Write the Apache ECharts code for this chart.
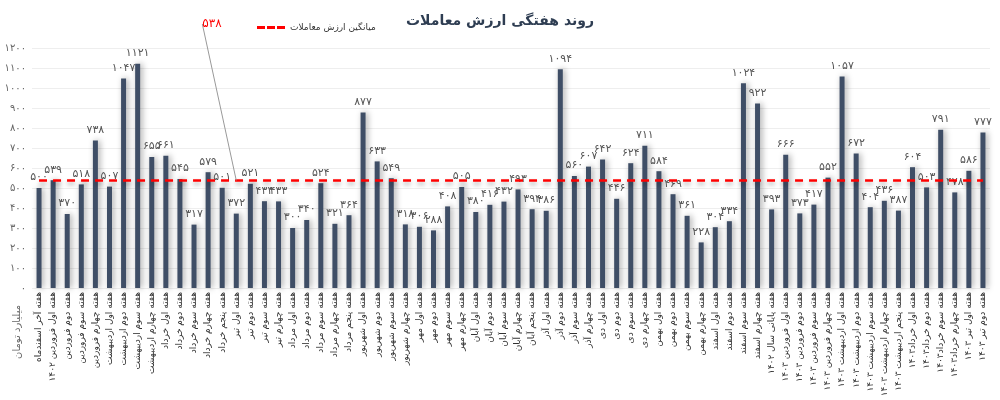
<!DOCTYPE html>
<html>
<head>
<meta charset="utf-8">
<script src="https://cdn.jsdelivr.net/npm/echarts@6/dist/echarts.min.js"></script>
<style>
    html, body { margin: 0; padding: 0; background: #fff; }
    #chart { width: 1000px; height: 400px; }
</style>
</head>
<body>
<div id="chart"></div>
<script>
// هفته‌ها
var weeks = [
    'هفته آخر اسفندماه', 'هفته اول فروردین ۱۴۰۲', 'هفته دوم فروردین', 'هفته سوم فروردین',
    'هفته چهارم فروردین', 'هفته اول اردیبهشت', 'هفته دوم اردیبهشت', 'هفته سوم اردیبهشت',
    'هفته چهارم اردیبهشت', 'هفته اول خرداد', 'هفته دوم خرداد', 'هفته سوم خرداد',
    'هفته چهارم خرداد', 'هفته پنجم خرداد', 'هفته اول تیر', 'هفته دوم تیر',
    'هفته سوم تیر', 'هفته چهارم تیر', 'هفته اول مرداد', 'هفته دوم مرداد',
    'هفته سوم مرداد', 'هفته چهارم مرداد', 'هفته پنجم مرداد', 'هفته اول شهریور',
    'هفته دوم شهریور', 'هفته سوم شهریور', 'هفته چهارم شهریور', 'هفته اول مهر',
    'هفته دوم مهر', 'هفته سوم مهر', 'هفته چهارم مهر', 'هفته اول آبان',
    'هفته دوم آبان', 'هفته سوم آبان', 'هفته چهارم آبان', 'هفته پنجم آبان',
    'هفته اول آذر', 'هفته دوم آذر', 'هفته سوم آذر', 'هفته چهارم آذر',
    'هفته اول دی', 'هفته دوم دی', 'هفته سوم دی', 'هفته چهارم دی',
    'هفته اول بهمن', 'هفته دوم بهمن', 'هفته سوم بهمن', 'هفته چهارم بهمن',
    'هفته اول اسفند', 'هفته دوم اسفند', 'هفته سوم اسفند', 'هفته چهارم اسفند',
    'هفته پایانی سال ۱۴۰۲', 'هفته اول فروردین ۱۴۰۳', 'هفته دوم فروردین ۱۴۰۳', 'هفته سوم فروردین ۱۴۰۳',
    'هفته چهارم فروردین ۱۴۰۳', 'هفته اول اردیبهشت ۱۴۰۳', 'هفته دوم اردیبهشت ۱۴۰۳', 'هفته سوم اردیبهشت ۱۴۰۳',
    'هفته چهارم اردیبهشت ۱۴۰۳', 'هفته پنجم اردیبهشت ۱۴۰۳', 'هفته اول خرداد۱۴۰۳', 'هفته دوم خرداد۱۴۰۳',
    'هفته سوم خرداد۱۴۰۳', 'هفته چهارم خرداد۱۴۰۳', 'هفته اول تیر ۱۴۰۳', 'هفته دوم تیر ۱۴۰۳'
];

// ارزش معاملات (میلیارد تومان)
var tradeValues = [
    500, 539, 370, 518, 738, 507, 1047, 1121, 655, 661, 545, 317,
    579, 501, 372, 521, 434, 433, 300, 340, 524, 321, 364, 877,
    633, 549, 318, 306, 288, 408, 505, 380, 416, 432, 493, 394,
    386, 1094, 560, 607, 642, 446, 624, 711, 584, 469, 361, 228,
    304, 334, 1024, 922, 393, 666, 373, 417, 552, 1057, 672, 404,
    436, 387, 604, 503, 791, 478, 586, 777
];

var avgValue = 538;
var avgLabelIndex = 14;

var faFont = 'DejaVu Sans, sans-serif';

function toFa(n) {
    return String(n).replace(/\d/g, function (d) { return '۰۱۲۳۴۵۶۷۸۹'[d]; });
}

var avgData = weeks.map(function (w, i) {
    if (i === avgLabelIndex) {
        return { value: avgValue, label: { show: true } };
    }
    return avgValue;
});

var option = {
    animation: false,
    title: {
        text: 'روند هفتگی ارزش معاملات',
        left: 'center',
        top: 9,
        textStyle: { fontFamily: faFont, fontSize: 14, fontWeight: 'bold', color: '#2e3d52' }
    },
    legend: {
        left: 252,
        top: 18,
        itemWidth: 28,
        itemHeight: 3,
        itemGap: 4,
        textStyle: { fontFamily: faFont, fontSize: 9, color: '#333' },
        data: [{
            name: 'میانگین ارزش معاملات',
            icon: 'path://M0,0h8v3h-8z M10,0h8v3h-8z M20,0h8v3h-8z',
            itemStyle: { color: '#ff0000' }
        }]
    },
    grid: {
        left: 32,
        right: 10,
        top: 48,
        bottom: 112
    },
    xAxis: {
        type: 'category',
        data: weeks,
        axisLine: { show: false },
        axisTick: { show: false },
        axisLabel: {
            interval: 0,
            rotate: 90,
            margin: 4,
            fontFamily: faFont,
            fontSize: 9,
            color: '#333'
        }
    },
    yAxis: {
        type: 'value',
        min: 0,
        max: 1200,
        interval: 100,
        axisLabel: {
            margin: 6,
            fontFamily: faFont,
            fontSize: 10,
            color: '#666',
            formatter: function (v) { return toFa(v); }
        },
        splitLine: { lineStyle: { color: '#eeeeee' } }
    },
    graphic: [
        {
            type: 'text',
            left: 12,
            top: 305,
            rotation: Math.PI / 2,
            style: { text: 'میلیارد تومان', font: '10px DejaVu Sans', fill: '#666' }
        }
    ],
    series: [
        {
            name: 'ارزش معاملات',
            type: 'bar',
            barWidth: 5,
            data: tradeValues,
            itemStyle: {
                color: '#3f4e66',
                shadowBlur: 6,
                shadowColor: 'rgba(0,0,0,0.35)',
                shadowOffsetX: 2
            },
            label: {
                show: true,
                position: 'top',
                distance: 5,
                fontFamily: faFont,
                fontSize: 11,
                color: '#555',
                formatter: function (p) { return toFa(p.value); }
            }
        },
        {
            name: 'میانگین ارزش معاملات',
            type: 'line',
            symbol: 'circle',
            symbolSize: 0,
            showSymbol: true,
            showAllSymbol: true,
            data: avgData,
            z: 5,
            lineStyle: {
                color: '#ff0000',
                width: 2.5,
                type: [8, 6],
                shadowBlur: 4,
                shadowColor: 'rgba(0,0,0,0.3)',
                shadowOffsetY: 3
            },
            itemStyle: { color: '#ff0000' },
            label: {
                show: false,
                fontFamily: faFont,
                fontSize: 12,
                color: '#ff0000',
                formatter: function (p) { return toFa(p.value); }
            },
            labelLine: {
                show: true,
                lineStyle: { color: '#999', width: 1 }
            },
            labelLayout: function (params) {
                if (params.dataIndex === avgLabelIndex) {
                    return { x: 212, y: 24, align: 'center', verticalAlign: 'middle' };
                }
            }
        }
    ]
};

var chart = echarts.init(document.getElementById('chart'));
chart.setOption(option);
</script>
</body>
</html>
